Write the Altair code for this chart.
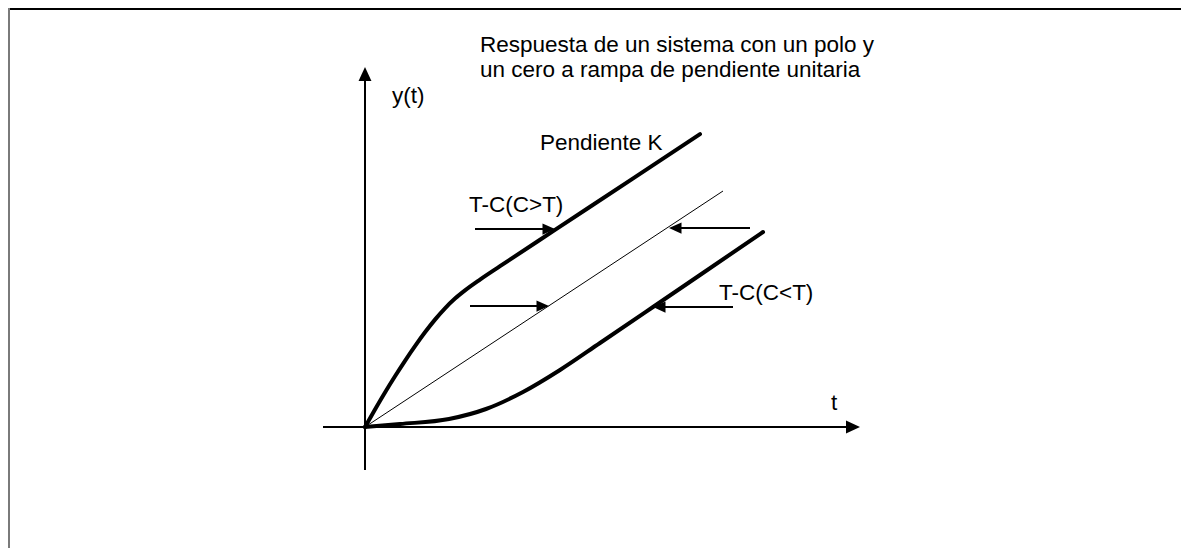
import altair as alt
import pandas as pd

# Response curves (time t, output y) in diagram units
upper_t = [0, 0.10, 0.20, 0.30, 0.40, 0.50, 0.60, 0.70, 0.80, 0.90, 1.00, 1.15, 1.35, 1.90, 2.67, 3.35]
upper_y = [0, 0.175, 0.345, 0.507, 0.662, 0.809, 0.947, 1.074, 1.187, 1.284, 1.366, 1.474, 1.608, 1.971, 2.479, 2.928]

lower_t = [0, 0.35, 0.84, 1.21, 1.58, 1.95, 2.35, 2.88, 3.35, 3.98]
lower_y = [0, 0.03, 0.08, 0.18, 0.35, 0.57, 0.84, 1.20, 1.52, 1.95]

ramp_t = [0, 3.58]
ramp_y = [0, 2.36]

# Axes extents
xaxis_from, xaxis_tip = -0.42, 4.95
yaxis_from, yaxis_tip = -0.43, 3.60

# Horizontal pointer arrows
arrow_start = [1.10, 1.05, 3.85, 3.68]
arrow_tip = [1.90, 1.84, 3.04, 2.88]
arrow_level = [1.98, 1.21, 1.99, 1.20]
arrow_dir = ["right", "right", "left", "left"]

# Text labels
labels = [
    "Respuesta de un sistema con un polo y",
    "un cero a rampa de pendiente unitaria",
    "y(t)",
    "Pendiente K",
    "T-C(C>T)",
    "T-C(C<T)",
    "t",
]
label_t = [1.15, 1.15, 0.27, 1.75, 1.04, 3.54, 4.66]
label_y = [3.75, 3.50, 3.24, 2.77, 2.15, 1.27, 0.17]

W, H = 1173, 540
XS = alt.Scale(domain=[-3.57, 8.16], nice=False, zero=False)
YS = alt.Scale(domain=[-1.21, 4.19], nice=False, zero=False)


def X(f="t"):
    return alt.X(f"{f}:Q", scale=XS, axis=None)


def Y(f="y"):
    return alt.Y(f"{f}:Q", scale=YS, axis=None)


upper = pd.DataFrame({"t": upper_t, "y": upper_y})
lower = pd.DataFrame({"t": lower_t, "y": lower_y})
ramp = pd.DataFrame({"t": ramp_t, "y": ramp_y})

thick = dict(color="black", strokeWidth=4, interpolate="monotone", strokeCap="round")
l_upper = alt.Chart(upper).mark_line(**thick).encode(x=X(), y=Y(), order="t:Q")
l_lower = alt.Chart(lower).mark_line(**thick).encode(x=X(), y=Y(), order="t:Q")
l_ramp = alt.Chart(ramp).mark_line(color="black", strokeWidth=1).encode(x=X(), y=Y())

# axes lines
xaxis = pd.DataFrame({"t": [xaxis_from], "t2": [xaxis_tip - 0.05], "y": [0]})
yaxis = pd.DataFrame({"t": [0], "y": [yaxis_from], "y2": [yaxis_tip - 0.05]})
r_x = alt.Chart(xaxis).mark_rule(color="black", strokeWidth=2).encode(
    x=X(), x2="t2:Q", y=Y())
r_y = alt.Chart(yaxis).mark_rule(color="black", strokeWidth=2).encode(
    x=X(), y=Y(), y2="y2:Q")

heads = pd.DataFrame({"t": [xaxis_tip], "y": [0]})
heads_up = pd.DataFrame({"t": [0], "y": [yaxis_tip]})
h_x = alt.Chart(heads).mark_point(
    shape="M0,0L-1,-0.46L-1,0.46Z", size=784, filled=True, color="black",
    opacity=1, strokeWidth=0).encode(x=X(), y=Y())
h_y = alt.Chart(heads_up).mark_point(
    shape="M0,0L-0.46,1L0.46,1Z", size=784, filled=True, color="black",
    opacity=1, strokeWidth=0).encode(x=X(), y=Y())

# pointer arrows
arr = pd.DataFrame({"t": arrow_start, "tip": arrow_tip, "y": arrow_level, "dir": arrow_dir})
arr["t2"] = [tp - 0.04 if d == "right" else tp + 0.04 for tp, d in zip(arr["tip"], arr["dir"])]
r_arr = alt.Chart(arr).mark_rule(color="black", strokeWidth=2).encode(
    x=X(), x2="t2:Q", y=Y())
h_right = alt.Chart(arr[arr["dir"] == "right"]).mark_point(
    shape="M0,0L-1,-0.45L-1,0.45Z", size=625, filled=True, color="black",
    opacity=1, strokeWidth=0).encode(x=X("tip"), y=Y())
h_left = alt.Chart(arr[arr["dir"] == "left"]).mark_point(
    shape="M0,0L1,-0.45L1,0.45Z", size=625, filled=True, color="black",
    opacity=1, strokeWidth=0).encode(x=X("tip"), y=Y())

# labels
lab = pd.DataFrame({"t": label_t, "y": label_y, "label": labels})
txt = alt.Chart(lab).mark_text(
    align="left", baseline="alphabetic", font="Liberation Sans, Arial, sans-serif",
    fontSize=22.5, color="black").encode(x=X(), y=Y(), text="label:N")

# frame (top black, left grey)
frame_top = alt.Chart(pd.DataFrame({"k": [0]})).mark_rule(color="black", strokeWidth=2).encode(
    x=alt.value(0), x2=alt.value(W), y=alt.value(1))
frame_left = alt.Chart(pd.DataFrame({"k": [0]})).mark_rule(color="#7a7a7a", strokeWidth=2).encode(
    x=alt.value(1), y=alt.value(0), y2=alt.value(H))

chart = alt.layer(
    frame_top, frame_left, r_x, r_y, h_x, h_y, l_ramp, l_upper, l_lower,
    r_arr, h_right, h_left, txt,
).properties(
    width=W, height=H,
    autosize=alt.AutoSizeParams(type="none"),
    padding=0,
    background="white",
).configure_view(stroke=None)

chart.save("out.html", embed_options={"renderer": "svg", "actions": False})
